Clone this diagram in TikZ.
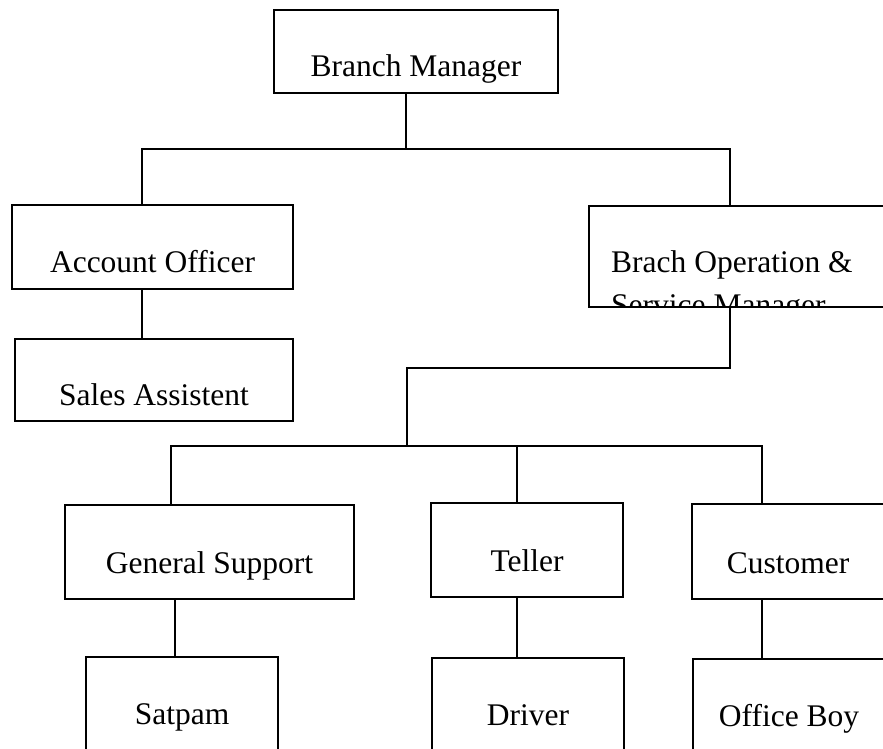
\documentclass[tikz,border=0pt]{standalone}
\usepackage{fontspec}
\setmainfont{Liberation Serif}
\usepackage{tikz}

\begin{document}
\begin{tikzpicture}[
  x=1pt, y=-1pt,
  box/.style={rectangle, draw=black, line width=1.6pt, inner sep=0pt, text depth=0pt, font=\fontsize{31.5}{42}\selectfont},
  toprow/.style={box, text height=51pt},
  midrow/.style={box, text height=43pt},
  lowrow/.style={box, text height=40pt},
  link/.style={line width=1.6pt, draw=black}
]
\useasboundingbox (0,0) rectangle (883,749);
\clip (0,0) rectangle (883,749);
\node[toprow, minimum width=284pt, minimum height=83pt] (bm) at (416,51.5) {Branch Manager};
\node[toprow, minimum width=281pt, minimum height=84pt] (ao) at (152.5,247) {Account Officer};
\node[toprow, minimum width=278pt, minimum height=82pt] (sa) at (154,380) {Sales Assistent};
\node[box, minimum width=311pt, minimum height=101pt] (bo) at (744.5,256.5) {};
\begin{scope}
  \clip (bo.south west) rectangle (bo.north east);
  \node[font=\fontsize{31.5}{43}\selectfont, align=left, inner sep=0pt, anchor=base west] (botext) at (611,315) {Brach Operation \&\\Service Manager};
\end{scope}
\node[midrow, minimum width=289pt, minimum height=94pt] (gs) at (209.5,552) {General Support};
\node[midrow, minimum width=192pt, minimum height=94pt] (te) at (527,550) {Teller};
\node[midrow, minimum width=192pt, minimum height=95pt] (cu) at (788,551.5) {Customer};
\node[lowrow, minimum width=192pt, minimum height=94pt] (sat) at (182,704) {Satpam};
\node[lowrow, minimum width=192pt, minimum height=94pt] (dr) at (528,705) {Driver};
\node[lowrow, minimum width=192pt, minimum height=94pt] (ob) at (789,706) {Office Boy};
% junctions
\coordinate (t1) at (406,149);
\coordinate (t2) at (407,368);
\coordinate (t3) at (407,446);
\draw[link] ([xshift=-10pt]bm.south) -- (t1);
\draw[link] ([xshift=-10.5pt]ao.north) |- (t1) -| ([xshift=-14.5pt]bo.north);
\draw[link] ([xshift=-10.5pt]ao.south) -- ([xshift=-12pt]sa.north);
\draw[link] ([xshift=-14.5pt]bo.south) |- (t2) -- (t3);
\draw[link] ([xshift=-38.5pt]gs.north) |- (t3) -| ([xshift=-26pt]cu.north);
\draw[link] ([xshift=-10pt]te.north) |- (t3);
\draw[link] ([xshift=-34.5pt]gs.south) -- ([xshift=-7pt]sat.north);
\draw[link] ([xshift=-10pt]te.south) -- ([xshift=-11pt]dr.north);
\draw[link] ([xshift=-26pt]cu.south) -- ([xshift=-27pt]ob.north);
\end{tikzpicture}
\end{document}
